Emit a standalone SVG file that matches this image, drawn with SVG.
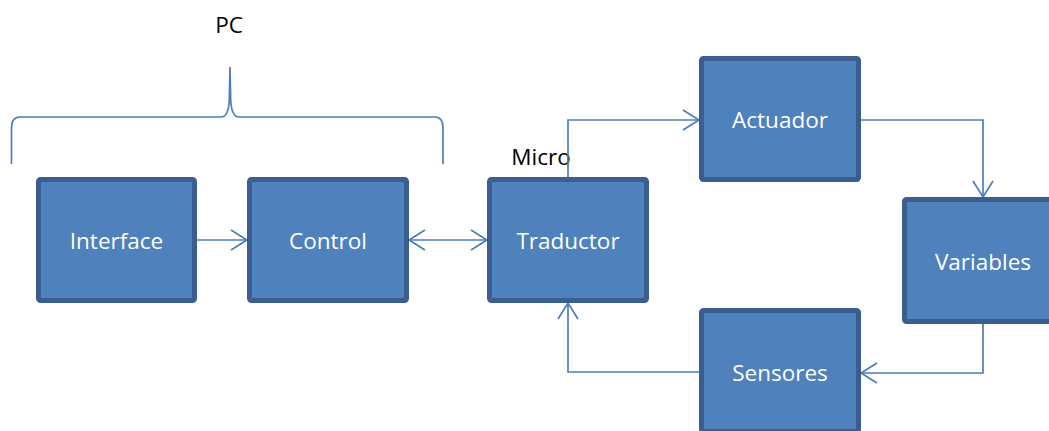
<svg xmlns="http://www.w3.org/2000/svg" width="1049" height="431" viewBox="0 0 1049 431">
  <style>
    .box { fill: #4f81bd; stroke: #3a5f8e; stroke-width: 5; }
    .lbl { fill: #ffffff; font-family: "Open Sans", "Liberation Sans", sans-serif; font-size: 22.5px; text-anchor: middle; }
    .cap { fill: #000000; font-family: "Open Sans", "Liberation Sans", sans-serif; font-size: 22.5px; text-anchor: middle; }
    .wire { fill: none; stroke: #4a7ebb; stroke-width: 1.7; }
  </style>
  <defs>
    <marker id="head" markerUnits="userSpaceOnUse" markerWidth="24" markerHeight="24" refX="0" refY="0" viewBox="-18 -12 20 24" orient="auto-start-reverse">
      <path d="M-16,-10 L0,0 L-16,10" fill="none" stroke="#4a7ebb" stroke-width="1.7"/>
    </marker>
  </defs>

  <rect width="1049" height="431" fill="#ffffff"/>

  <!-- brace grouping the PC blocks -->
  <g id="pc-brace">
    <path class="wire" d="M11.5,164 L11.5,128 Q11.5,117 20,117 L221,117 Q228.5,117 229.3,100 L230,67 L230.7,100 Q231.5,117 239,117 L435,117 Q443,117 443,128 L443,164"/>
    <text class="cap" x="229" y="33">PC</text>
  </g>

  <text id="micro-label" class="cap" x="541" y="165">Micro</text>

  <g id="connectors">
    <path class="wire" d="M197,240 H247" marker-end="url(#head)"/>
    <path class="wire" d="M409,240 H487" marker-start="url(#head)" marker-end="url(#head)"/>
    <path class="wire" d="M568,177 V120 H699" marker-end="url(#head)"/>
    <path class="wire" d="M861,120 H983 V197" marker-end="url(#head)"/>
    <path class="wire" d="M983,324 V373 H861" marker-end="url(#head)"/>
    <path class="wire" d="M699,372 H568 V303" marker-end="url(#head)"/>
  </g>

  <g id="interface">
    <rect class="box" x="38.5" y="179.5" width="156" height="121" rx="2"/>
    <text class="lbl" x="116.5" y="249">Interface</text>
  </g>
  <g id="control">
    <rect class="box" x="249.5" y="179.5" width="157" height="121" rx="2"/>
    <text class="lbl" x="328" y="249">Control</text>
  </g>
  <g id="traductor">
    <rect class="box" x="489.5" y="179.5" width="157" height="121" rx="2"/>
    <text class="lbl" x="568" y="249">Traductor</text>
  </g>
  <g id="actuador">
    <rect class="box" x="701.5" y="58.5" width="157" height="121" rx="2"/>
    <text class="lbl" x="780" y="128">Actuador</text>
  </g>
  <g id="variables">
    <rect class="box" x="904.5" y="199.5" width="157" height="122" rx="2"/>
    <text class="lbl" x="983" y="270">Variables</text>
  </g>
  <g id="sensores">
    <rect class="box" x="701.5" y="310.5" width="157" height="121" rx="2"/>
    <text class="lbl" x="780" y="381">Sensores</text>
  </g>
</svg>
